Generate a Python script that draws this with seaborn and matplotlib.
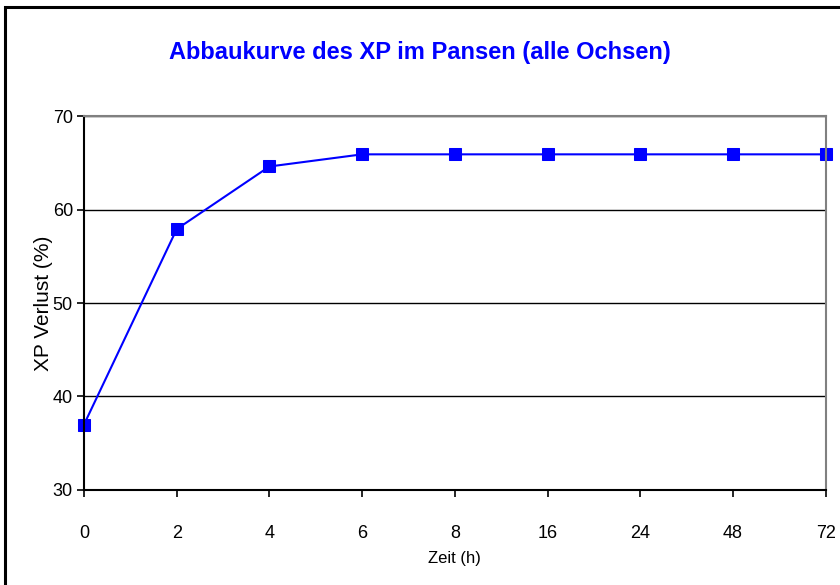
import pandas as pd
import seaborn as sns
import matplotlib.pyplot as plt
from matplotlib.patches import Rectangle

zeit = ['0', '2', '4', '6', '8', '16', '24', '48', '72']
xp_verlust = [37.0, 57.9, 64.6, 65.9, 65.9, 65.9, 65.9, 65.9, 65.9]

df = pd.DataFrame({'Zeit': zeit, 'Verlust': xp_verlust})

sns.set_style('white')
plt.rcParams['font.family'] = ['Liberation Sans', 'DejaVu Sans']
plt.rcParams['text.color'] = 'black'
plt.rcParams['xtick.color'] = 'black'
plt.rcParams['ytick.color'] = 'black'
plt.rcParams['axes.labelcolor'] = 'black'

fig = plt.figure(figsize=(8.4, 5.85), dpi=100)
ax = fig.add_axes([0.1, 0.1624, 0.883, 0.6393])

sns.lineplot(data=df, x='Zeit', y='Verlust', sort=False, ax=ax,
             color='#0000ff', linewidth=1.5, marker='s', markersize=9,
             markeredgecolor='#0000ff', clip_on=False)

ax.set_xlim(0, len(zeit) - 1)
ax.set_ylim(30, 70)
ax.set_yticks([30, 40, 50, 60, 70])
ax.yaxis.grid(True, color='black', linewidth=1.0)
ax.set_axisbelow(True)

for side in ['left', 'bottom']:
    ax.spines[side].set_color('black')
    ax.spines[side].set_linewidth(1.5)
for side in ['top', 'right']:
    ax.spines[side].set_visible(True)
    ax.spines[side].set_color('#808080')
    ax.spines[side].set_linewidth(1.5)

ax.tick_params(axis='x', direction='out', length=5, width=1.2, color='black',
               bottom=True, pad=20, labelsize=13)
ax.tick_params(axis='y', direction='out', length=5, width=1.2, color='black',
               left=True, pad=3, labelsize=13)

ax.set_xlabel('Zeit (h)', fontsize=12, labelpad=7)
ax.set_ylabel('XP Verlust (%)', fontsize=15, labelpad=0)

fig.text(0.5, 0.911, 'Abbaukurve des XP im Pansen (alle Ochsen)',
         ha='center', va='center', color='#0000ff', fontsize=17, fontweight='bold')

fig.patches.append(Rectangle((5 / 840, -0.05), 1.0, (585 - 7) / 585 + 0.05,
                             transform=fig.transFigure, fill=False,
                             edgecolor='black', linewidth=2.2))

fig.savefig('out.png', dpi=100)
